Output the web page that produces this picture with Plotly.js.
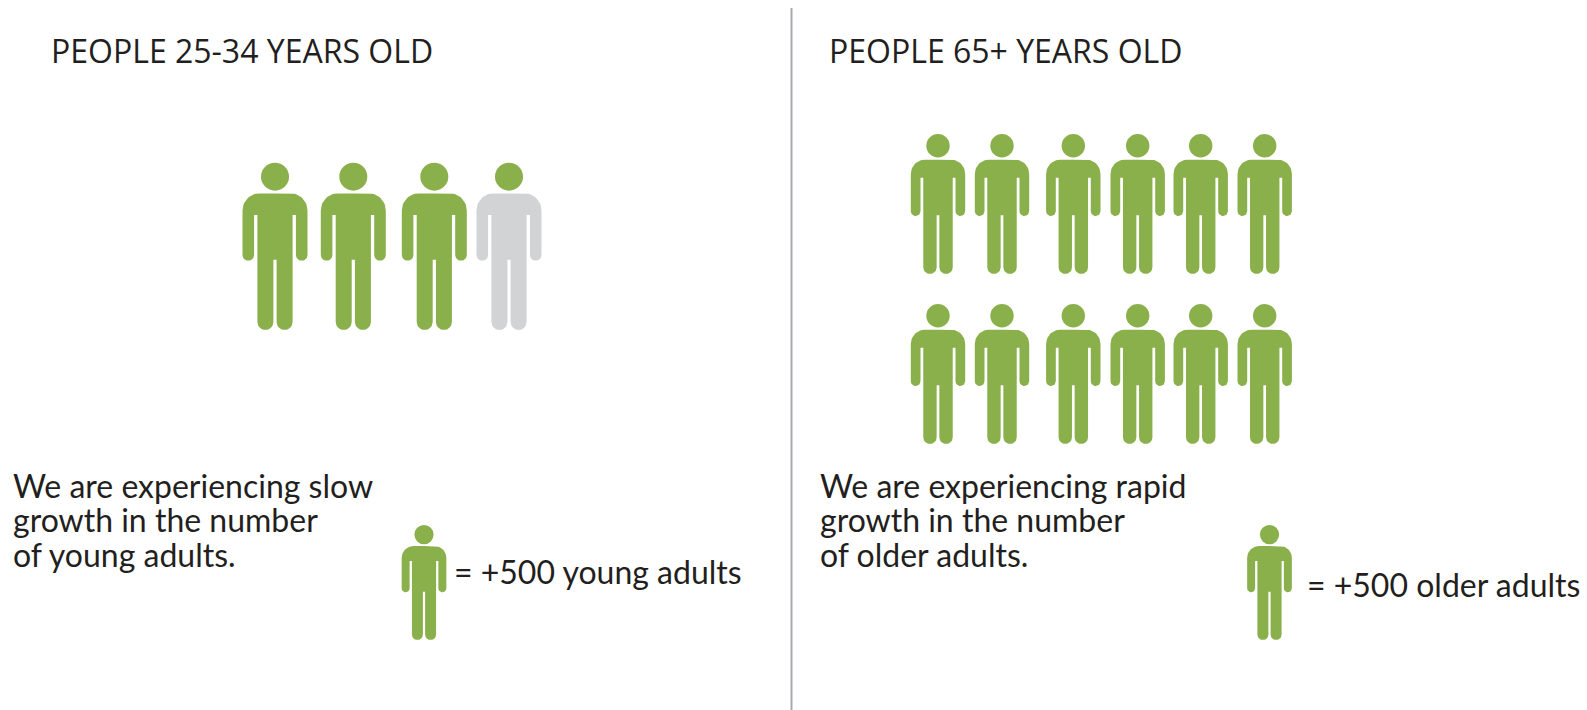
<!DOCTYPE html>
<html>
<head>
<meta charset="utf-8">
<script src="https://cdn.plot.ly/plotly-3.0.1.min.js"></script>
<style>html,body{margin:0;padding:0;background:#fff;overflow:hidden}</style>
</head>
<body>
<div id="chart" style="width:1587px;height:710px"></div>
<script>
// Panel headings and captions
const panelTitles = ["PEOPLE 25-34 YEARS OLD", "PEOPLE 65+ YEARS OLD"];
const youngCaption = ["We are experiencing slow", "growth in the number", "of young adults."];
const olderCaption = ["We are experiencing rapid", "growth in the number", "of older adults."];
const keyLabels = ["= +500 young adults", "= +500 older adults"];

// Pictogram placement: one figure stands for 500 people
const youngX = [275, 353.3, 434.3, 509];
const youngTop = [162.7, 162.7, 162.7, 162.7];
const youngFilled = [true, true, true, false];
const olderX = [938, 1002, 1073.3, 1137.7, 1200.7, 1264.7];
const olderRowTop = [134, 304];
const keyX = [424, 1269.5];
const keyTop = [525, 525];

const LARGE = 167.3, MEDIUM = 140, SMALL = 115;
const GREEN = "#8ab04b", GREY = "#d1d3d4", INK = "#231f20", RULE = "#a7a9ac";

// Half outline of a figure 167.3 units tall, drawn downward from the shoulder line
function arc(cx, cy, r, from, to) {
  const pts = [];
  for (let i = 0; i <= 14; i++) {
    const a = (from + (to - from) * i / 14) * Math.PI / 180;
    pts.push([cx + r * Math.cos(a), cy + r * Math.sin(a)]);
  }
  return pts;
}
const halfBody = [
  [0, 30.7],
  ...arc(15.5, 47.7, 17, -90, 0),
  ...arc(26.7, 92.2, 5.8, 0, 180),
  [20.9, 52.3], [17.6, 52.3],
  ...arc(9.6, 159.3, 8, 0, 180),
  [1.6, 97], [0, 97]
];
const outline = [...halfBody, ...halfBody.slice().reverse().map(p => [-p[0], p[1]])];

function bodyTrace(xs, tops, height, color) {
  const k = height / 167.3, x = [], y = [];
  xs.forEach((cx, i) => {
    outline.forEach(p => { x.push(cx + p[0] * k); y.push(tops[i] + p[1] * k); });
    x.push(null); y.push(null);
  });
  return { type: "scatter", mode: "lines", x, y, fill: "toself", fillcolor: color,
           line: { width: 0, color }, hoverinfo: "skip", showlegend: false };
}
function headTrace(xs, tops, height) {
  const k = height / 167.3;
  return { type: "scatter", mode: "markers", x: xs, y: tops.map(t => t + 14 * k),
           marker: { size: 28 * k, color: GREEN, line: { width: 0 } },
           hoverinfo: "skip", showlegend: false };
}

const olderXAll = olderRowTop.flatMap(() => olderX);
const olderTopAll = olderRowTop.flatMap(t => olderX.map(() => t));

const data = [
  bodyTrace(youngX.filter((_, i) => youngFilled[i]), youngTop.filter((_, i) => youngFilled[i]), LARGE, GREEN),
  bodyTrace(youngX.filter((_, i) => !youngFilled[i]), youngTop.filter((_, i) => !youngFilled[i]), LARGE, GREY),
  headTrace(youngX, youngTop, LARGE),
  bodyTrace(olderXAll, olderTopAll, MEDIUM, GREEN),
  headTrace(olderXAll, olderTopAll, MEDIUM),
  bodyTrace(keyX, keyTop, SMALL, GREEN),
  headTrace(keyX, keyTop, SMALL)
];

function label(text, x, y, family, size) {
  return { text, x, y, xref: "x", yref: "y", xanchor: "left", yanchor: "middle",
           showarrow: false, borderpad: 0, align: "left",
           font: { family, size, color: INK } };
}
const HEAD_FONT = "'Open Sans', sans-serif", BODY_FONT = "Lato, sans-serif";
const annotations = [
  label(panelTitles[0], 50, 50, HEAD_FONT, 32),
  label(panelTitles[1], 828, 50, HEAD_FONT, 32),
  ...youngCaption.map((t, i) => label(t, 12, 485, BODY_FONT, 32)),
  ...olderCaption.map((t, i) => label(t, 819, 485, BODY_FONT, 32)),
  label(keyLabels[0], 453, 571, BODY_FONT, 32),
  label(keyLabels[1], 1306, 584, BODY_FONT, 32)
];
// Caption lines step down at a fixed leading
[2, 5].forEach(start => [0, 1, 2].forEach(i => { annotations[start + i].y += i * 34.5; }));

const layout = {
  width: 1587, height: 710, margin: { l: 0, r: 0, t: 0, b: 0 },
  paper_bgcolor: "#ffffff", plot_bgcolor: "#ffffff", showlegend: false,
  xaxis: { range: [0, 1587], visible: false, fixedrange: true },
  yaxis: { range: [710, 0], visible: false, fixedrange: true },
  shapes: [{ type: "line", xref: "x", yref: "y", x0: 791.5, x1: 791.5, y0: 8, y1: 710,
             line: { color: RULE, width: 2 } }],
  annotations
};
Plotly.newPlot("chart", data, layout, { displayModeBar: false, staticPlot: true });
</script>
</body>
</html>
